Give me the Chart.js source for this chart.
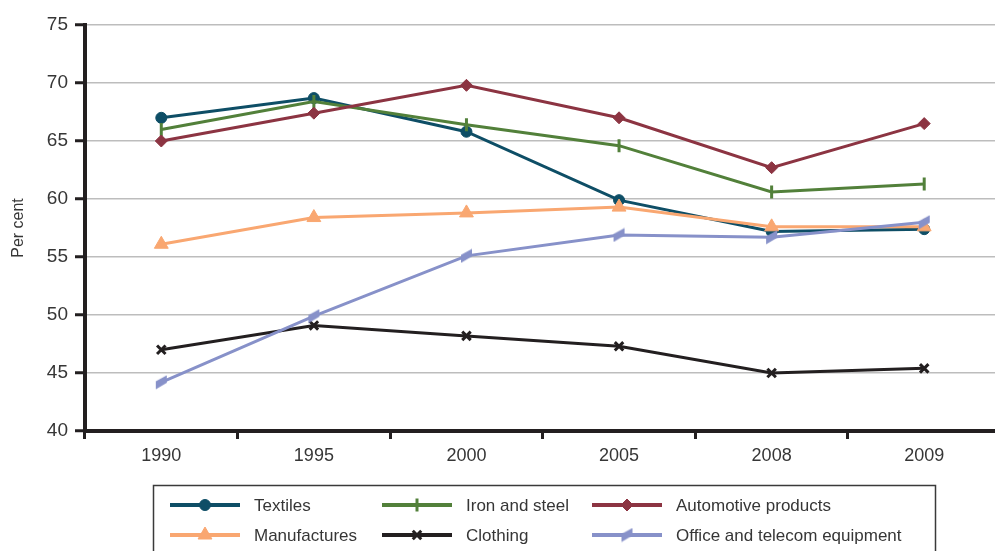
<!DOCTYPE html>
<html>
<head>
<meta charset="utf-8">
<script src="https://cdn.jsdelivr.net/npm/chart.js@4"></script>
<style>
  html, body { margin: 0; padding: 0; background: #fff; overflow: hidden; }
  #wrap { width: 995px; height: 551px; overflow: hidden; position: relative; }
  canvas { display: block; }
</style>
</head>
<body>
<div id="wrap"><canvas id="c" width="1010" height="560"></canvas></div>
<script>
// Share of exports, per cent, by product group
const years = ['1990', '1995', '2000', '2005', '2008', '2009'];
const textiles     = [67.0, 68.7, 65.8, 59.9, 57.2, 57.4];
const ironSteel    = [66.0, 68.4, 66.4, 64.6, 60.6, 61.3];
const automotive   = [65.0, 67.4, 69.8, 67.0, 62.7, 66.5];
const manufactures = [56.1, 58.4, 58.8, 59.3, 57.6, 57.6];
const clothing     = [47.0, 49.1, 48.2, 47.3, 45.0, 45.4];
const office       = [44.2, 49.9, 55.1, 56.9, 56.7, 58.0];
const seriesNames = ['Textiles', 'Iron and steel', 'Automotive products',
                     'Manufactures', 'Clothing', 'Office and telecom equipment'];
const yTicks = [40, 45, 50, 55, 60, 65, 70, 75];

const FONT = '"Liberation Sans", Arial, Helvetica, sans-serif';
const TEXT = '#363636';
const AXIS = '#231f20';

// Slanted parallelogram marker for the office/telecom series
function makeSkewMarker(color) {
  const c = document.createElement('canvas');
  c.width = 13; c.height = 15;
  const g = c.getContext('2d');
  g.fillStyle = color;
  g.beginPath();
  g.moveTo(1, 6.5);
  g.lineTo(12, 0.5);
  g.lineTo(12, 8);
  g.lineTo(1, 14.5);
  g.closePath();
  g.fill();
  return c;
}

const styles = [
  { color: '#0e4e66', pointStyle: 'circle',   radius: 5.5, rotation: 0,  bw: 1 },
  { color: '#52803a', pointStyle: 'line',     radius: 6.5, rotation: 90, bw: 3 },
  { color: '#8c3442', pointStyle: 'rectRot',  radius: 6,   rotation: 0,  bw: 1 },
  { color: '#f9a771', pointStyle: 'triangle', radius: 8,   rotation: 0,  bw: 1 },
  { color: '#231f20', pointStyle: 'crossRot', radius: 6,   rotation: 0,  bw: 3 },
  { color: '#8791c9', pointStyle: null,       radius: 6,   rotation: 0,  bw: 1 }
];
styles[5].pointStyle = makeSkewMarker(styles[5].color);

const values = [textiles, ironSteel, automotive, manufactures, clothing, office];

const datasets = values.map((data, i) => ({
  label: seriesNames[i],
  data: data,
  borderColor: styles[i].color,
  backgroundColor: styles[i].color,
  borderWidth: 3,
  tension: 0,
  pointStyle: styles[i].pointStyle,
  pointRadius: styles[i].radius,
  pointHoverRadius: styles[i].radius,
  pointRotation: styles[i].rotation,
  pointBorderWidth: styles[i].bw,
  pointBorderColor: styles[i].color,
  pointBackgroundColor: styles[i].color,
  order: values.length - 1 - i   // later series painted on top
}));

// Boxed two-row legend under the plot
const boxLegend = {
  id: 'boxLegend',
  afterDraw(chart) {
    const ctx = chart.ctx;
    ctx.save();
    ctx.strokeStyle = '#3a3a3a';
    ctx.lineWidth = 1.5;
    ctx.strokeRect(153.5, 485.5, 782, 90);
    const colX = [170, 382, 592];
    const rowY = [505, 535];
    ctx.font = '17px ' + FONT;
    ctx.textBaseline = 'middle';
    ctx.textAlign = 'left';
    seriesNames.forEach((name, i) => {
      const x = colX[i % 3];
      const y = rowY[Math.floor(i / 3)];
      const st = styles[i];
      ctx.strokeStyle = st.color;
      ctx.lineWidth = 4;
      ctx.beginPath();
      ctx.moveTo(x, y);
      ctx.lineTo(x + 70, y);
      ctx.stroke();
      ctx.fillStyle = st.color;
      ctx.lineWidth = st.bw;
      Chart.helpers.drawPoint(ctx, {
        pointStyle: st.pointStyle,
        radius: st.radius,
        rotation: st.rotation,
        borderWidth: st.bw
      }, x + 35, y);
      ctx.fillStyle = TEXT;
      ctx.fillText(name, x + 84, y + 1);
    });
    ctx.restore();
  }
};

new Chart(document.getElementById('c'), {
  type: 'line',
  data: { labels: years, datasets: datasets },
  plugins: [boxLegend],
  options: {
    responsive: false,
    animation: false,
    layout: { padding: { top: 25, right: 7, bottom: 89, left: 0 } },
    plugins: { legend: { display: false }, tooltip: { enabled: false } },
    scales: {
      x: {
        type: 'category',
        offset: true,
        afterFit(scale) { scale.height = 40; },
        grid: {
          offset: true,
          drawOnChartArea: false,
          drawTicks: true,
          tickLength: 8,
          tickColor: AXIS,
          tickWidth: 3
        },
        border: { display: true, color: AXIS, width: 4 },
        ticks: {
          color: TEXT,
          font: { family: FONT, size: 18 },
          padding: 6,
          maxRotation: 0
        }
      },
      y: {
        min: 40,
        max: 75,
        afterFit(scale) { scale.width = 85; },
        afterBuildTicks(scale) { scale.ticks = yTicks.map(v => ({ value: v })); },
        grid: {
          color: '#bdbdbd',
          lineWidth: 1.5,
          drawTicks: true,
          tickLength: 10,
          tickColor: AXIS,
          tickWidth: 3
        },
        border: { display: true, color: AXIS, width: 4 },
        ticks: {
          color: TEXT,
          font: { family: FONT, size: 19 },
          padding: 7
        },
        title: {
          display: true,
          text: 'Per cent',
          color: TEXT,
          font: { family: FONT, size: 16 },
          padding: { top: 9, bottom: 0 }
        }
      }
    }
  }
});
</script>
</body>
</html>
